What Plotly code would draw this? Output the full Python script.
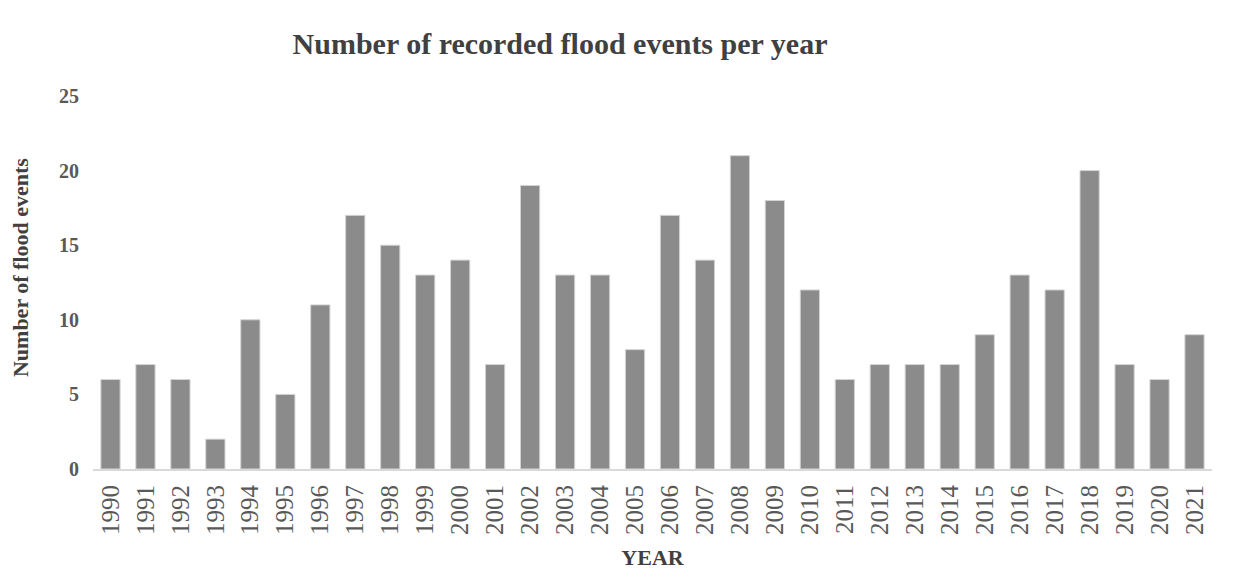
import plotly.graph_objects as go

years = [str(y) for y in range(1990, 2022)]
events = [6, 7, 6, 2, 10, 5, 11, 17, 15, 13, 14, 7, 19, 13, 13, 8,
          17, 14, 21, 18, 12, 6, 7, 7, 7, 9, 13, 12, 20, 7, 6, 9]
y_ticks = [0, 5, 10, 15, 20, 25]

# page body has an 8px margin; figure is sized to fill the rest of the window
OFF = 8
W, H = 1246 - OFF, 584 - OFF

fig = go.Figure(go.Bar(
    x=years, y=events,
    width=0.55,
    marker=dict(color="#8b8b8b", line=dict(color="#d4d4d4", width=1)),
))

font_family = "Liberation Serif, Times New Roman, serif"
fig.update_layout(
    width=W, height=H,
    paper_bgcolor="white", plot_bgcolor="white",
    margin=dict(l=93 - OFF, r=34, t=96 - OFF, b=115),
    showlegend=False,
    title=dict(text="<b>Number of recorded flood events per year</b>",
               x=(560 - OFF) / W, xref="container", xanchor="center",
               y=1 - (43 - OFF) / H, yref="container", yanchor="middle",
               font=dict(family=font_family, size=30, color="#404040")),
    font=dict(family=font_family),
)
fig.update_xaxes(
    type="category", tickangle=-90,
    tickfont=dict(family=font_family, size=25, color="#595959"),
    showline=True, linecolor="#d9d9d9", linewidth=2,
    showgrid=False, ticks="", ticklabelstandoff=4,
    title=dict(text="<b>YEAR</b>", font=dict(family=font_family, size=22, color="#404040"), standoff=16),
)
fig.update_yaxes(
    range=[0, 25], tickvals=y_ticks,
    ticktext=[f"<b>{v}</b>" for v in y_ticks],
    tickfont=dict(family=font_family, size=20, color="#595959"),
    showgrid=False, zeroline=False, showline=False, ticks="",
    ticklabelstandoff=13,
)
fig.add_annotation(
    text="<b>Number of flood events</b>", textangle=-90,
    xref="paper", yref="paper",
    x=-(93 - 20) / 1120, y=(469 - 268) / 373,
    xanchor="center", yanchor="middle", showarrow=False,
    font=dict(family=font_family, size=22, color="#404040"),
)

fig.write_html("out.html")
